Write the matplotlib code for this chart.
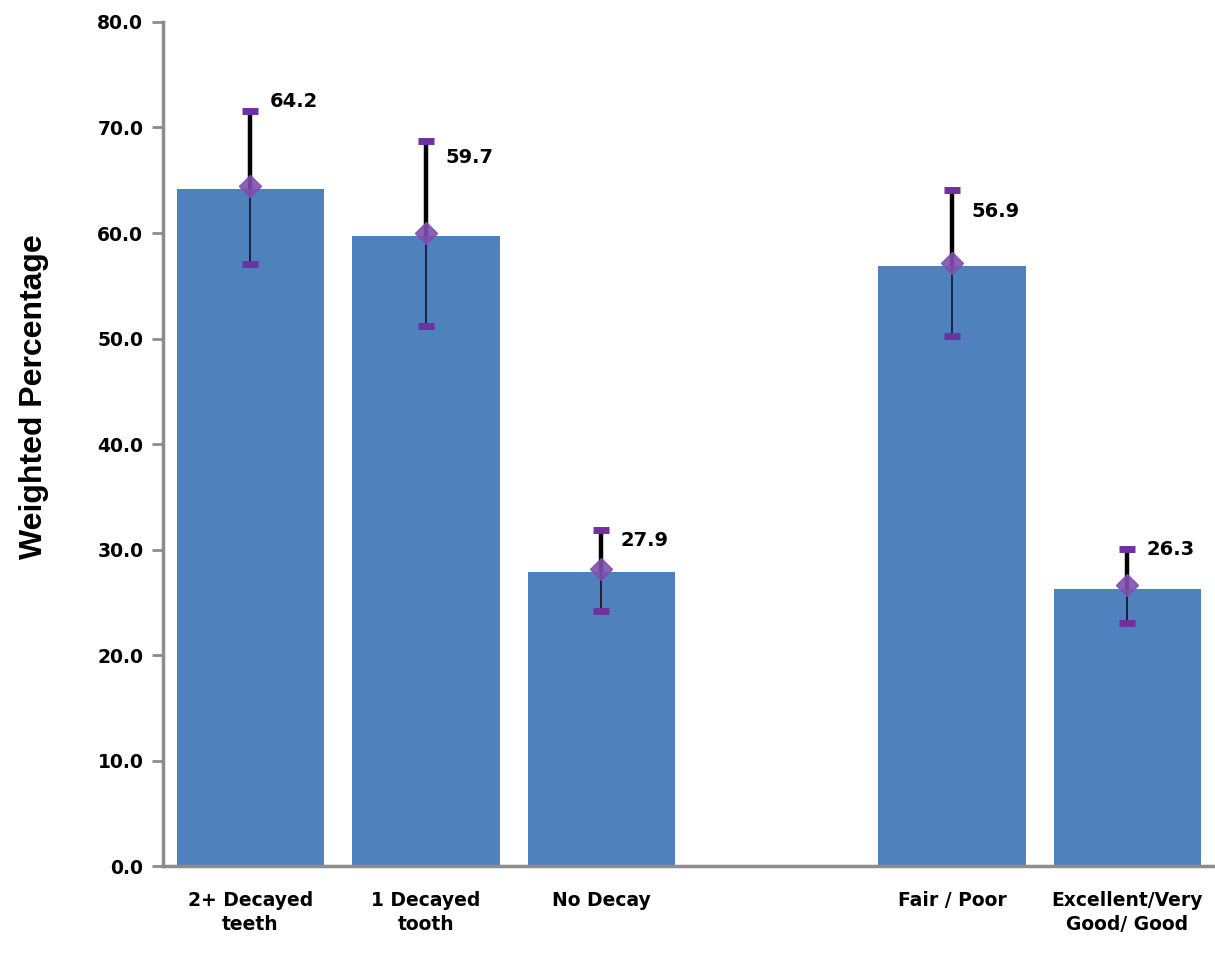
import numpy as np
import matplotlib.pyplot as plt

categories = ["2+ Decayed\nteeth", "1 Decayed\ntooth", "No Decay", "Fair / Poor", "Excellent/Very\nGood/ Good"]
slots = [0, 1, 2, 4, 5]  # slot 3 left empty as a gap between the two groups
values = [64.2, 59.7, 27.9, 56.9, 26.3]
lower = [57.1, 51.2, 24.2, 50.2, 23.0]
upper = [71.6, 68.7, 31.9, 64.1, 30.1]
label_dy = [0.9, -1.5, -1.0, -2.1, -0.1]

bar_color = "#4F81BD"
purple = "#7030A0"
grey = "#8C8C8C"

fig = plt.figure(figsize=(12.15, 9.55), dpi=100)
ax = fig.add_axes([0.134, 0.093, 0.866, 0.884])

ax.bar(slots, values, width=0.84, color=bar_color, zorder=1)

for x, v, lo, hi, dy in zip(slots, values, lower, upper, label_dy):
    ax.plot([x, x], [v, hi], color="black", lw=3.2, zorder=3, solid_capstyle="butt")
    ax.plot([x, x], [lo, v], color="#1a1a2e", lw=1.3, zorder=3, solid_capstyle="butt")
    ax.plot([x, x], [lo, hi], ls="none", marker="_", ms=11, mew=5, color=purple, zorder=4)
    ax.plot(x, v + 0.3, marker="D", ms=11, color="#7F4FAF", mec="#7F4FAF", alpha=0.9, zorder=5)
    ax.text(x + 0.11, hi + dy, f"{v:.1f}", fontsize=14, fontweight="bold",
            ha="left", va="center", color="black")

ax.set_xlim(-0.5, 5.5)
ax.set_ylim(0, 80)
ax.set_yticks(np.arange(0, 81, 10))
ax.set_yticklabels([f"{t:.1f}" for t in np.arange(0, 81, 10)], fontsize=13.5, fontweight="bold")
ax.set_xticks(slots)
ax.set_xticklabels(categories, fontsize=13.5, fontweight="bold", linespacing=1.3)
ax.tick_params(axis="x", length=0, pad=18)
ax.tick_params(axis="y", length=8, width=2, color=grey, direction="out", pad=6)

for side in ["top", "right"]:
    ax.spines[side].set_visible(False)
for side in ["left", "bottom"]:
    ax.spines[side].set_color(grey)
    ax.spines[side].set_linewidth(2.5)

fig.text(0.028, 0.585, "Weighted Percentage", rotation=90, ha="center", va="center",
         fontsize=23, fontweight="heavy", family=["Liberation Sans", "DejaVu Sans"])

fig.savefig("out.png", dpi=100)
